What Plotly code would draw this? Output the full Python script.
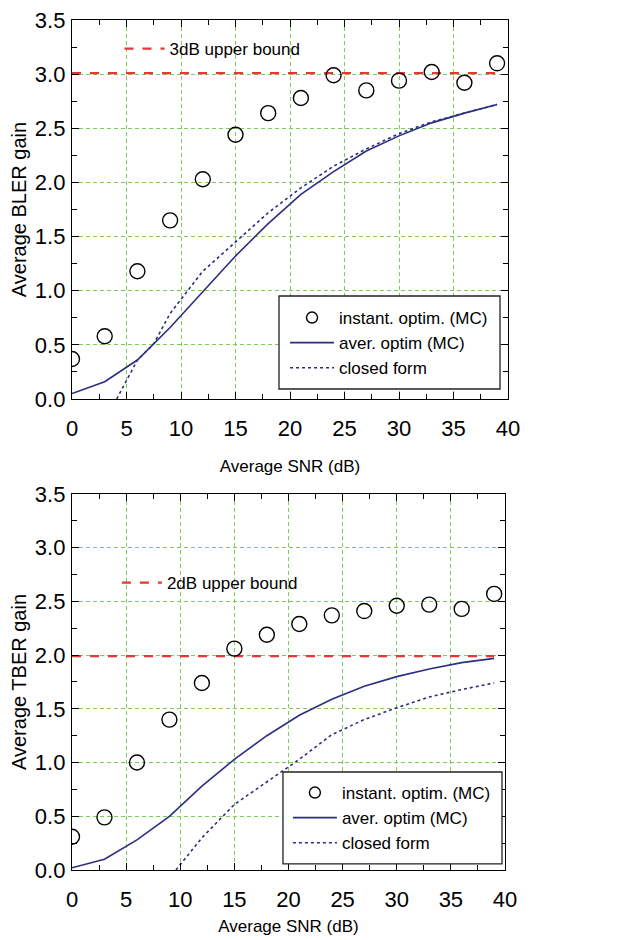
import plotly.graph_objects as go

snr = [0, 3, 6, 9, 12, 15, 18, 21, 24, 27, 30, 33, 36, 39]

bler_instant = [0.37, 0.58, 1.18, 1.65, 2.03, 2.44, 2.64, 2.78, 2.99, 2.85, 2.94, 3.02, 2.92, 3.10]
bler_aver = [0.05, 0.16, 0.36, 0.66, 0.99, 1.32, 1.62, 1.89, 2.10, 2.29, 2.43, 2.55, 2.64, 2.72]
bler_closed_x = [4.1, 6, 7.5, 9, 12, 15, 18, 21, 24, 27, 30, 33, 36, 39]
bler_closed = [0.0, 0.36, 0.51, 0.79, 1.18, 1.45, 1.72, 1.95, 2.15, 2.31, 2.45, 2.56, 2.64, 2.72]
bler_bound = 3.01

tber_instant = [0.31, 0.49, 1.00, 1.40, 1.74, 2.06, 2.19, 2.29, 2.37, 2.41, 2.46, 2.47, 2.43, 2.57]
tber_aver = [0.02, 0.10, 0.28, 0.50, 0.78, 1.03, 1.25, 1.44, 1.59, 1.71, 1.80, 1.87, 1.93, 1.97]
tber_closed_x = [9.6, 12, 15, 18, 21, 24, 27, 30, 33, 36, 39]
tber_closed = [0.0, 0.30, 0.61, 0.82, 1.03, 1.26, 1.40, 1.51, 1.61, 1.68, 1.74]
tber_bound = 1.99

bound_x = [0, 39]

NAVY = "#2c2e80"
RED = "#ee3333"
GRID = "#7ccc55"
FONT = "Liberation Sans, Arial, sans-serif"

fig = go.Figure()

def add_panel(xa, ya, inst, aver, cx, cy, bound, blabel, leg, bleg):
    fig.add_trace(go.Scatter(x=bound_x, y=[bound, bound], mode="lines",
                             line=dict(color=RED, width=2.2, dash="dash"),
                             name=blabel, legend=bleg, xaxis=xa, yaxis=ya))
    fig.add_trace(go.Scatter(x=snr, y=inst, mode="markers",
                             marker=dict(symbol="circle-open", size=15, color="black",
                                         line=dict(width=1.4, color="black")),
                             name="instant. optim. (MC)", showlegend=False,
                             xaxis=xa, yaxis=ya))
    # legend entry for the circles (smaller symbol, as in the original legend)
    fig.add_trace(go.Scatter(x=[None], y=[None], mode="markers",
                             marker=dict(symbol="circle-open", size=11, color="black",
                                         line=dict(width=1.4, color="black")),
                             name="instant. optim. (MC)", legend=leg, xaxis=xa, yaxis=ya))
    fig.add_trace(go.Scatter(x=snr, y=aver, mode="lines",
                             line=dict(color=NAVY, width=1.6),
                             name="aver. optim (MC)", legend=leg, xaxis=xa, yaxis=ya))
    fig.add_trace(go.Scatter(x=cx, y=cy, mode="lines",
                             line=dict(color=NAVY, width=1.6, dash="3px,3px"),
                             name="closed form", legend=leg, xaxis=xa, yaxis=ya))

add_panel("x", "y", bler_instant, bler_aver, bler_closed_x, bler_closed, bler_bound,
          "3dB upper bound", "legend", "legend3")
add_panel("x2", "y2", tber_instant, tber_aver, tber_closed_x, tber_closed, tber_bound,
          "2dB upper bound", "legend2", "legend4")

def xaxis(domain, anchor, standoff):
    return dict(domain=domain, anchor=anchor, range=[0, 40], dtick=5, tick0=0,
                automargin=False, ticklabeloverflow="allow",
                showgrid=True, gridcolor=GRID, griddash="4px,3px", gridwidth=1,
                showline=True, linecolor="black", linewidth=1.3, mirror="allticks",
                ticks="inside", ticklen=7, tickcolor="black", tickwidth=1.2,
                minor=dict(dtick=2.5, ticks="inside", ticklen=5, tickcolor="black",
                           showgrid=False, tickwidth=1),
                tickfont=dict(size=22, color="black", family=FONT),
                ticklabelstandoff=9, zeroline=False,
                title=dict(text="Average SNR (dB)", font=dict(size=17, color="black", family=FONT),
                           standoff=standoff))

def yaxis(domain, anchor, title):
    return dict(domain=domain, anchor=anchor, range=[0, 3.5], dtick=0.5, tick0=0,
                tickformat=".1f", automargin=False, ticklabeloverflow="allow",
                showgrid=True, gridcolor=GRID, griddash="4px,3px", gridwidth=1,
                showline=True, linecolor="black", linewidth=1.3, mirror="allticks",
                ticks="inside", ticklen=7, tickcolor="black", tickwidth=1.2,
                minor=dict(dtick=0.25, ticks="inside", ticklen=5, tickcolor="black",
                           showgrid=False, tickwidth=1),
                tickfont=dict(size=22, color="black", family=FONT),
                ticklabelstandoff=1, zeroline=False,
                title=dict(text=title, font=dict(size=20, color="black", family=FONT),
                           standoff=12))

legbox = dict(bgcolor="rgba(0,0,0,0)", borderwidth=0,
              font=dict(size=17, color="black", family=FONT),
              xanchor="left", yanchor="top", itemwidth=44)
legplain = dict(bgcolor="rgba(0,0,0,0)", borderwidth=0,
                font=dict(size=17, color="black", family=FONT),
                xanchor="left", yanchor="middle", itemwidth=40)

# legend frames (opaque boxes drawn over the data, under the legend entries)
shapes = [
    dict(type="rect", xref="paper", yref="paper", x0=0.4748, x1=0.9817, y0=0.5659, y1=0.6753,
         fillcolor="white", line=dict(color="#222222", width=1.3), layer="above"),
    dict(type="rect", xref="paper", yref="paper", x0=0.4839, x1=0.9862, y0=0.0071, y1=0.1153,
         fillcolor="white", line=dict(color="#222222", width=1.3), layer="above"),
]

fig.update_layout(
    width=632, height=940,
    margin=dict(l=64, r=132, t=12, b=78),
    paper_bgcolor="white", plot_bgcolor="white",
    font=dict(family=FONT, color="black"),
    xaxis=xaxis([0, 1], "y", 20),
    yaxis=yaxis([0.5541, 1.0], "x", "Average BLER gain"),
    xaxis2=xaxis([0, 0.9931], "y2", 9),
    yaxis2=yaxis([0.0, 0.4424], "x2", "Average TBER gain"),
    legend=dict(legbox, x=0.4886, y=0.6706),
    legend2=dict(legbox, x=0.4952, y=0.1118),
    legend3=dict(legplain, x=0.109, y=0.9659),
    legend4=dict(legplain, x=0.103, y=0.3376),
    shapes=shapes,
    showlegend=True,
)

fig.write_html("out.html")
